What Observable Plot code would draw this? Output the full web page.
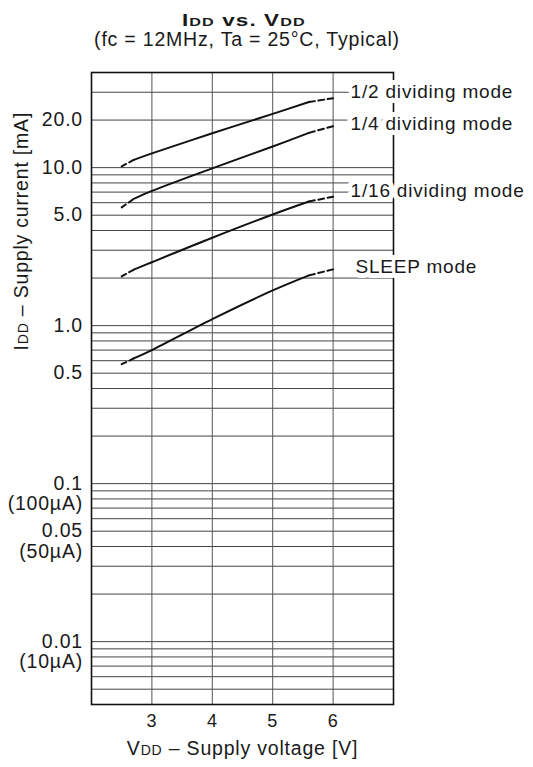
<!DOCTYPE html>
<html><head><meta charset="utf-8">
<script src="https://cdn.jsdelivr.net/npm/d3@7"></script>
<script src="https://cdn.jsdelivr.net/npm/@observablehq/plot@0.6"></script>
<style>
body{margin:0;background:#fff;font-family:"Liberation Sans",Arial,sans-serif;color:#1a1a1a;}
#head{position:relative;height:55px;width:533px;}
#head div{position:absolute;left:0;text-align:center;line-height:1;white-space:nowrap;letter-spacing:0.8px;}
#head .t{top:11.9px;width:487px;font-size:16.3px;font-weight:bold;}
#head .t span.w{display:inline-block;transform:scaleX(1.38);transform-origin:center;}
#head .s{top:29.7px;width:494px;font-size:19.5px;}
.sm{font-size:72%;}
</style></head><body>
<div id="head">
  <div class="t"><span class="w">I<span class="sm">DD</span> vs. V<span class="sm">DD</span></span></div>
  <div class="s">(fc = 12MHz, Ta = 25°C, Typical)</div>
</div>
<div id="chart"></div>
<script>
// Supply voltage sample points [V]
const volts = [2.5, 2.7, 3, 4, 5, 5.6, 6];
// Supply current [mA] per mode
const half      = [10.2, 11.2, 12.3, 16.5, 21.9, 26.0, 27.5];
const quarter   = [5.6, 6.35, 7.12, 9.9, 13.6, 16.6, 18.3];
const sixteenth = [2.05, 2.26, 2.52, 3.6, 5.05, 6.1, 6.55];
const sleep     = [0.57, 0.62, 0.70, 1.1, 1.67, 2.08, 2.27];
const modeNames = ["1/2 dividing mode", "1/4 dividing mode", "1/16 dividing mode", "SLEEP mode"];
// guaranteed (solid) range of each curve [V]
const solidRange = [2.7, 5.6];
// label anchors (data units)
const labelV = [6.29, 6.29, 6.29, 6.37];
const labelI = [30, 18.9, 7.15, 2.35];

// axes
const xTicks = [3, 4, 5, 6];
const yTicks = [20, 10, 5, 1, 0.5, 0.1, 0.05, 0.01];
const yTickLabels = ["20.0", "10.0", "5.0", "1.0", "0.5", "0.1", "0.05", "0.01"];
const ySubTicks = [0.1, 0.05, 0.01];
const ySubLabels = ["(100µA)", "(50µA)", "(10µA)"];
const gridY = [0.005,0.006,0.007,0.008,0.009,
               0.01,0.02,0.03,0.04,0.05,0.06,0.07,0.08,0.09,
               0.1,0.2,0.3,0.4,0.5,0.6,0.7,0.8,0.9,
               1,2,3,4,5,6,7,8,9,10,20,30];
const xTitle = "VDD – Supply voltage [V]";
const yTitle = "IDD – Supply current [mA]";

const seriesValues = [half, quarter, sixteenth, sleep];
const rows = [];
seriesValues.forEach((vals, k) => volts.forEach((v, i) => rows.push({mode: modeNames[k], v, i: vals[i]})));
const solid = rows.filter(d => d.v >= solidRange[0] && d.v <= solidRange[1]);
const dashLo = rows.filter(d => d.v <= solidRange[0]);
const dashHi = rows.filter(d => d.v >= solidRange[1]);

const ink = "#1a1a1a";
const chart = Plot.plot({
  width: 533, height: 712,
  marginTop: 17, marginBottom: 63, marginLeft: 91, marginRight: 140,
  style: {fontFamily: '"Liberation Sans", Arial, sans-serif', fontSize: "19.5px", letterSpacing: "0.8px", color: ink, background: "white", overflow: "visible"},
  x: {domain: [2, 7], axis: null},
  y: {type: "log", domain: [0.004, 40], axis: null},
  marks: [
    Plot.ruleY(gridY, {stroke: "#444", strokeWidth: 1}),
    Plot.ruleX(xTicks, {stroke: "#555", strokeWidth: 1}),
    Plot.line(solid, {x: "v", y: "i", z: "mode", stroke: "#111", strokeWidth: 2, curve: "catmull-rom"}),
    Plot.line(dashLo, {x: "v", y: "i", z: "mode", stroke: "#111", strokeWidth: 2, strokeDasharray: "5,3.5"}),
    Plot.line(dashHi, {x: "v", y: "i", z: "mode", stroke: "#111", strokeWidth: 2, strokeDasharray: "6,3.5"}),
    Plot.frame({stroke: "#111", strokeWidth: 1.6}),
    Plot.text(modeNames, {x: labelV, y: labelI, text: d => d, textAnchor: "start", fontSize: 19,
      fill: ink, stroke: "white", strokeWidth: 10, paintOrder: "stroke", strokeLinejoin: "round"}),
    Plot.text(yTickLabels, {y: yTicks, text: d => d, frameAnchor: "left", textAnchor: "end", dx: -8.5, fill: ink}),
    Plot.text(ySubLabels, {y: ySubTicks, text: d => d, frameAnchor: "left", textAnchor: "end", dx: -8.5, dy: 20.5, fill: ink}),
    Plot.text(xTicks, {x: xTicks, text: d => String(d), frameAnchor: "bottom", lineAnchor: "top", dy: 10, fontSize: 18, fill: ink}),
    Plot.text([yTitle], {text: d => d, frameAnchor: "left", rotate: -90, dx: -69.4, dy: -38, fill: ink}),
    Plot.text([xTitle], {text: d => d, frameAnchor: "bottom", dy: 50.6, fill: ink})
  ]
});

// small "DD" in IDD / VDD
d3.select(chart).selectAll("text").each(function () {
  const t = this.textContent;
  if (/^[IV]DD /.test(t)) {
    const s = d3.select(this);
    this.textContent = "";
    s.append("tspan").text(t[0]);
    s.append("tspan").style("font-size", "0.72em").text("DD");
    s.append("tspan").text(t.slice(3));
  }
});
document.getElementById("chart").appendChild(chart);
</script>
</body></html>
